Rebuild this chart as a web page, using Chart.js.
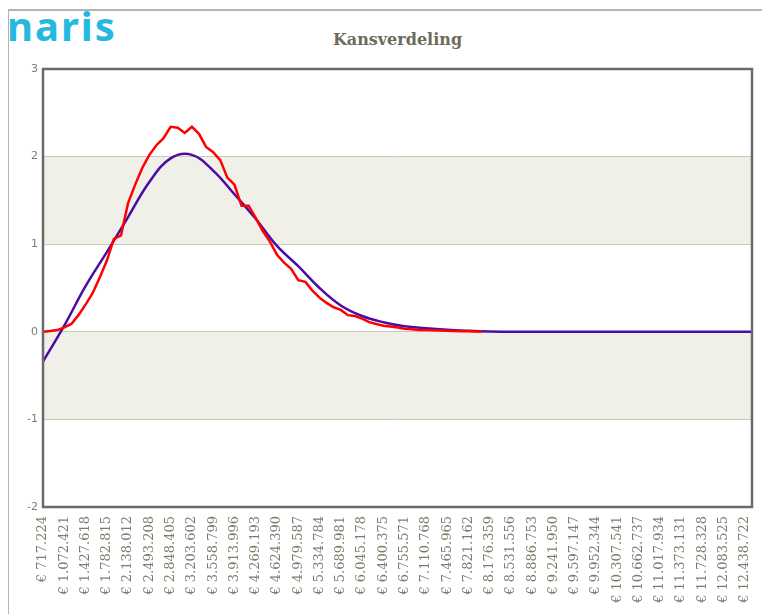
<!DOCTYPE html>
<html>
<head>
<meta charset="utf-8">
<title>Kansverdeling</title>
<script src="https://cdn.jsdelivr.net/npm/chart.js@4.4.0/dist/chart.umd.min.js"></script>
<style>
  body { margin: 0; background: #fff; }
  #wrap { position: relative; width: 762px; height: 614px; overflow: hidden; }
  #frame { position: absolute; left: 8px; top: 9px; width: 800px; height: 700px;
           border-left: 1px solid #b4b4b4; border-top: 2px solid #b4b4b4; }
  #logo { position: absolute; left: 7px; top: 6px; font: bold 40px "Noto Sans", sans-serif;
          line-height: 40px; color: #27b8e0; letter-spacing: 2px; }
  #title { position: absolute; left: 43px; width: 709px; top: 32px; text-align: center;
           font: bold 16px "DejaVu Serif", serif; line-height: 16px; color: #6c6c5a; }
  canvas { position: absolute; left: 0; top: 0; }
</style>
</head>
<body>
<div id="wrap">
  <div id="frame"></div>
  <div id="logo">naris</div>
  <div id="title">Kansverdeling</div>
  <canvas id="chart" width="762" height="614"></canvas>
</div>
<script>
// tick labels shown on the x axis (every 3rd point)
const tickLabels = [
  "€ 717.224", "€ 1.072.421", "€ 1.427.618", "€ 1.782.815", "€ 2.138.012",
  "€ 2.493.208", "€ 2.848.405", "€ 3.203.602", "€ 3.558.799", "€ 3.913.996",
  "€ 4.269.193", "€ 4.624.390", "€ 4.979.587", "€ 5.334.784", "€ 5.689.981",
  "€ 6.045.178", "€ 6.400.375", "€ 6.755.571", "€ 7.110.768", "€ 7.465.965",
  "€ 7.821.162", "€ 8.176.359", "€ 8.531.556", "€ 8.886.753", "€ 9.241.950",
  "€ 9.597.147", "€ 9.952.344", "€ 10.307.541", "€ 10.662.737", "€ 11.017.934",
  "€ 11.373.131", "€ 11.728.328", "€ 12.083.525", "€ 12.438.722"
];
const pointCount = 101;
const categories = [];
for (let i = 0; i < pointCount; i++) categories.push(i % 3 === 0 ? tickLabels[i / 3] : "");

// empirical distribution (red), one value per point
const observed = [
  0.00, 0.01, 0.02, 0.05, 0.09, 0.19, 0.31, 0.44, 0.62, 0.81,
  1.06, 1.10, 1.47, 1.68, 1.87, 2.02, 2.13, 2.21, 2.34, 2.33,
  2.27, 2.34, 2.26, 2.11, 2.05, 1.96, 1.76, 1.68, 1.44, 1.44,
  1.30, 1.15, 1.03, 0.88, 0.79, 0.72, 0.59, 0.57, 0.47, 0.39,
  0.33, 0.28, 0.25, 0.19, 0.18, 0.15, 0.11, 0.09, 0.07, 0.06,
  0.05, 0.035, 0.03, 0.02, 0.02, 0.017, 0.014, 0.012, 0.01, 0.006,
  0.005, 0.003, 0.002
];

// fitted curve (purple), one value per shown tick plus the last point
const fitted = [
  -0.34, 0.07, 0.52, 0.91, 1.31, 1.71, 1.98, 2.02, 1.84, 1.57,
  1.29, 0.98, 0.75, 0.50, 0.30, 0.18, 0.11, 0.063, 0.04, 0.023,
  0.012, 0.004, 0, 0, 0, 0, 0, 0, 0, 0,
  0, 0, 0, 0, 0
];
const fittedSeries = new Array(pointCount).fill(null);
fitted.forEach((v, k) => { fittedSeries[Math.min(k * 3, pointCount - 1)] = v; });

const shadedBands = [[1, 2], [-1, 0]];

const decor = {
  id: "decor",
  beforeDraw(chart) {
    const { ctx, chartArea: a, scales: { y } } = chart;
    ctx.save();
    ctx.fillStyle = "#f0f0e9";
    shadedBands.forEach(([lo, hi]) => {
      const top = y.getPixelForValue(hi), bot = y.getPixelForValue(lo);
      ctx.fillRect(a.left, top, a.right - a.left, bot - top);
    });
    ctx.restore();
  },
  afterDatasetsDraw(chart) {
    const { ctx, chartArea: a } = chart;
    ctx.save();
    ctx.strokeStyle = "#6a6a6a";
    ctx.lineWidth = 2.5;
    ctx.strokeRect(a.left, a.top, a.right - a.left, a.bottom - a.top);
    ctx.restore();
  }
};

new Chart(document.getElementById("chart"), {
  type: "line",
  data: {
    labels: categories,
    datasets: [
      {
        data: observed,
        borderColor: "#ff0000",
        borderWidth: 2.5,
        pointRadius: 0,
        tension: 0
      },
      {
        data: fittedSeries,
        spanGaps: true,
        borderColor: "#4b0ca6",
        borderWidth: 2.5,
        pointRadius: 0,
        tension: 0.4
      }
    ]
  },
  options: {
    responsive: false,
    animation: false,
    devicePixelRatio: 1,
    layout: { padding: { left: 8, top: 69, right: 10, bottom: 0 } },
    plugins: { legend: { display: false }, tooltip: { enabled: false } },
    scales: {
      x: {
        grid: { display: false },
        border: { display: false },
        afterFit(s) { s.height = 107; s.paddingLeft = 0; s.paddingRight = 0; },
        ticks: {
          autoSkip: false,
          minRotation: 90,
          maxRotation: 90,
          padding: 1,
          color: "#7c7c6c",
          font: { family: "DejaVu Serif", size: 13 },
          callback: (v, i) => categories[i]
        }
      },
      y: {
        min: -2,
        max: 3,
        afterFit(s) { s.width = 35; },
        border: { display: false },
        grid: { color: "#c8c8bf", lineWidth: 1, drawTicks: false },
        ticks: {
          stepSize: 1,
          padding: 5,
          color: "#7c7c6c",
          font: { family: "DejaVu Sans", size: 11 }
        }
      }
    }
  },
  plugins: [decor]
});
</script>
</body>
</html>
